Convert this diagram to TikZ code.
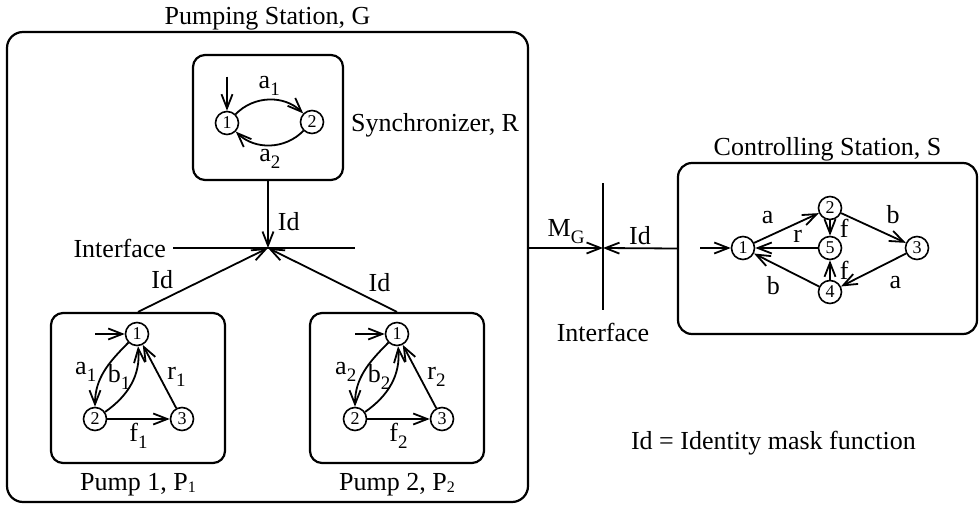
\documentclass[tikz,border=0pt]{standalone}
\usepackage{fontspec}
\setmainfont{Liberation Serif}
\usepackage{tikz}
\usetikzlibrary{positioning,arrows.meta}
\tikzstyle{box} = [draw,line width=1.1pt,rounded corners=8pt,inner sep=0pt]
\tikzstyle{state} = [draw,circle,line width=0.8pt,inner sep=0pt,minimum size=11.5pt,font=\fontsize{9}{9}\selectfont]
\tikzstyle{line} = [draw,line width=0.9pt]
\tikzstyle{arr} = [line,-{Straight Barb[length=7pt,width=5.5pt]}]
\tikzstyle{lab} = [inner sep=1.5pt]
\newcommand{\lsub}[1]{\raisebox{-3.5pt}{\fontsize{9.5}{10}\selectfont #1}}
\newcommand{\psub}[1]{\raisebox{-1pt}{\fontsize{8}{9}\selectfont #1}}

\begin{document}
\begin{tikzpicture}[x=0.5pt,y=-0.5pt,font=\fontsize{13}{15}\selectfont]
\useasboundingbox (0,0) rectangle (979,508);

% pumping station G
\node[box,minimum width=260.5pt,minimum height=235pt] (G) at (267.5,267) {};
\node (Gname) [above=-3pt of G] {Pumping Station, G};

% synchronizer R
\node[box,rounded corners=6pt,minimum width=75pt,minimum height=62.5pt] (R) at (268,117.5) {};
\node (Rname) [right=0pt of R,yshift=-4pt] {Synchronizer, R};
\node[state] (r1) at (227,123) {1};
\node[state] (r2) at (312,122) {2};
\coordinate[above=17pt of r1] (r0);
\draw[arr] (r0) -- (r1);
\draw[arr] (r1) to[bend left=45] node[lab,above] {a\lsub{1}} (r2);
\draw[arr] (r2) to[bend left=45] node[lab,below] {a\lsub{2}} (r1);

% interface inside G
\coordinate (ifx) at (268,248);
\coordinate (ifw) at (173,248);
\coordinate (ife) at (355,248);
\draw[line] (ifw) -- (ife);
\node (ifname) [left=0pt of ifw] {Interface};
\draw[arr] (R) -- node[lab,pos=0.6,right=3pt] {Id} (ifx);

% pump 1
\node[box,rounded corners=6pt,minimum width=87pt,minimum height=75pt] (P1) at (138,388) {};
\node (P1name) [below=1pt of P1] {Pump 1, P\psub{1}};
\node[state] (p1s1) at (137,334) {1};
\node[state] (p1s2) at (95,419) {2};
\node[state] (p1s3) at (182,419) {3};
\coordinate (p1s0) at (95,334);
\draw[arr] (p1s0) -- (p1s1);
\draw[arr] (p1s1) to[out=-135,in=90] node[lab,left=2pt] {a\lsub{1}} (p1s2);
\draw[arr] (p1s2) to[out=35,in=-85] node[lab,pos=0.6,left] {b\lsub{1}} (p1s1);
\draw[arr] (p1s2) -- node[lab,below] {f\lsub{1}} (p1s3);
\draw[arr] (p1s3) -- node[lab,right=2pt] {r\lsub{1}} (p1s1);
\draw[arr] (P1.north) -- node[lab,pos=0.3,anchor=south east] {Id} (ifx);

% pump 2
\node[box,rounded corners=6pt,minimum width=87pt,minimum height=75pt] (P2) at (397,388) {};
\node (P2name) [below=1pt of P2] {Pump 2, P\psub{2}};
\node[state] (p2s1) at (397,334) {1};
\node[state] (p2s2) at (355,419) {2};
\node[state] (p2s3) at (442,419) {3};
\coordinate (p2s0) at (355,334);
\draw[arr] (p2s0) -- (p2s1);
\draw[arr] (p2s1) to[out=-135,in=90] node[lab,left=2pt] {a\lsub{2}} (p2s2);
\draw[arr] (p2s2) to[out=35,in=-85] node[lab,pos=0.6,left] {b\lsub{2}} (p2s1);
\draw[arr] (p2s2) -- node[lab,below] {f\lsub{2}} (p2s3);
\draw[arr] (p2s3) -- node[lab,right=2pt] {r\lsub{2}} (p2s1);
\draw[arr] (P2.north) -- node[lab,pos=0.25,anchor=south west] {Id} (ifx);

% controlling station S
\node[box,rounded corners=7pt,minimum width=149.5pt,minimum height=85.5pt] (S) at (827.5,248.5) {};
\node (Sname) [above=-3pt of S] {Controlling Station, S};
\node[state] (s1) at (743,248) {1};
\node[state] (s2) at (830,208) {2};
\node[state] (s3) at (917,248) {3};
\node[state] (s4) at (830,292) {4};
\node[state] (s5) at (830,248) {5};
\coordinate (s0) at (700,248);
\draw[arr] (s0) -- (s1);
\draw[arr] (s1) -- node[lab,pos=0.4,above left=2pt] {a} (s2);
\draw[arr] (s2) -- node[lab,pos=0.6,above right=2pt] {b} (s3);
\draw[arr] (s2) -- node[lab,right=3pt] {f} (s5);
\draw[arr] (s5) -- node[lab,pos=0.32,above=1pt] {r} (s1);
\draw[arr] (s3) -- node[lab,pos=0.4,below right=4pt] {a} (s4);
\draw[arr] (s4) -- node[lab,pos=0.5,below left=2pt] {b} (s1);
\draw[arr] (s4) -- node[lab,right=3pt] {f} (s5);

% interface between G and S
\coordinate (mx) at (603,248);
\coordinate (mtop) at (603,183);
\coordinate (mbot) at (603,310);
\draw[line] (mtop) -- (mbot);
\node (mname) [below=3pt of mbot] {Interface};
\draw[arr] (G.east |- mx) -- node[lab,above] {M\lsub{G}} (mx);
\draw[arr] (S.west) -- node[lab,above] {Id} (mx);

\node (legend) [anchor=west] at (624,443) {Id = Identity mask function};
\end{tikzpicture}
\end{document}
